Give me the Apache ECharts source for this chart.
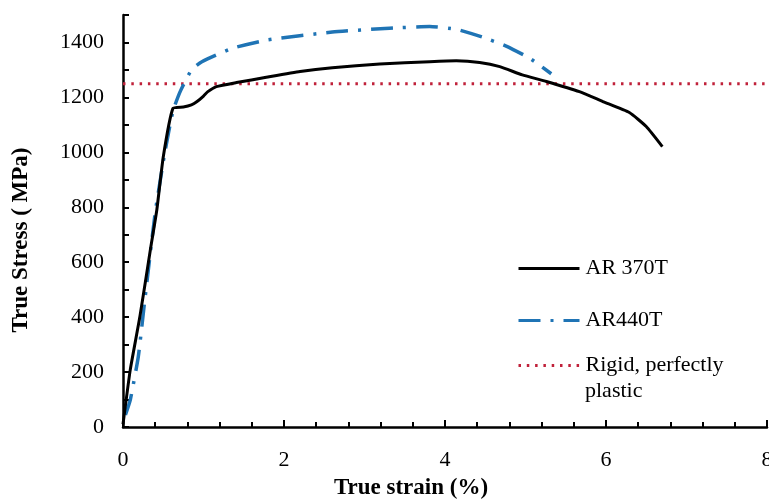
<!DOCTYPE html>
<html>
<head>
<meta charset="utf-8">
<script src="https://cdn.jsdelivr.net/npm/echarts@6/dist/echarts.min.js"></script>
<style>
  html, body { margin: 0; padding: 0; background: #fff; }
  #chart { width: 769px; height: 501px; }
</style>
</head>
<body>
<div id="chart"></div>
<script>
// True stress–strain curves of the two armour steels (strain in %, stress in MPa)
const ar370Strain = [0, 0.09, 0.21, 0.34, 0.42, 0.50, 0.62, 0.75, 0.85, 0.92, 1.0, 1.05, 1.16, 1.41, 1.78, 2.2, 2.6, 3.19, 3.81, 4.14, 4.43, 4.68, 4.96, 5.26, 5.67, 5.96, 6.29, 6.5, 6.7];
const ar370Stress = [10, 208, 402, 645, 790, 983, 1160, 1165, 1173, 1185, 1205, 1220, 1239, 1254, 1273, 1294, 1308, 1322, 1330, 1333, 1327, 1312, 1282, 1258, 1221, 1185, 1145, 1094, 1021];

const ar440Strain = [0.03, 0.09, 0.19, 0.27, 0.40, 0.52, 0.62, 0.71, 0.85, 0.98, 1.36, 1.79, 2.6, 3.31, 3.81, 4.14, 4.47, 4.76, 5.05, 5.32];
const ar440Stress = [44, 98, 256, 460, 780, 1000, 1150, 1221, 1300, 1330, 1379, 1409, 1438, 1452, 1458, 1448, 1419, 1387, 1343, 1286];

// Rigid, perfectly plastic reference level
const rigidStrain = [0, 8];
const rigidStress = [1250, 1250];

const seriesNames = ['AR 370T', 'AR440T', 'Rigid, perfectly plastic'];

const pairs = (xs, ys) => xs.map((x, i) => [x, ys[i]]);

const FONT = "'Liberation Serif', 'Times New Roman', serif";

const legendText = { fontFamily: FONT, fontSize: 22, color: '#000', lineHeight: 27, padding: [0, 0, 0, 1] };
// the marker dot of line-series legend icons is hidden; only the stroked line remains
const legendItemStyle = { opacity: 0 };
const legendLineStyle = { width: 3 };

const chart = echarts.init(document.getElementById('chart'), null, { renderer: 'canvas' });

chart.setOption({
  animation: false,
  backgroundColor: '#ffffff',
  textStyle: { fontFamily: FONT, color: '#000' },
  grid: { left: 123, right: 2, top: 15, bottom: 74, containLabel: false, outerBoundsMode: 'none' },
  legend: [
    {
      data: [seriesNames[0], seriesNames[1]],
      orient: 'vertical',
      left: 517,
      top: 255,
      padding: 0,
      itemWidth: 61,
      itemHeight: 14,
      itemGap: 25,
      itemStyle: legendItemStyle,
      lineStyle: legendLineStyle,
      textStyle: legendText
    },
    {
      data: [seriesNames[2]],
      orient: 'vertical',
      left: 517,
      top: 352,
      padding: 0,
      itemWidth: 61,
      itemHeight: 14,
      itemStyle: legendItemStyle,
      lineStyle: legendLineStyle,
      formatter: () => 'Rigid, perfectly',
      textStyle: legendText
    }
  ],
  graphic: [
    {
      type: 'text',
      left: 585,
      top: 380,
      style: { text: 'plastic', fontFamily: FONT, fontSize: 22, fill: '#000' }
    }
  ],
  xAxis: {
    type: 'value',
    min: 0,
    max: 8,
    interval: 2,
    name: 'True strain (%)',
    nameLocation: 'middle',
    nameGap: 50,
    nameTextStyle: { fontFamily: FONT, fontSize: 23, fontWeight: 'bold', color: '#000', padding: [0, 68, 0, 0] },
    axisLine: { show: true, onZero: false, lineStyle: { color: '#000', width: 2.5 } },
    axisTick: { show: true, inside: true, length: 7, lineStyle: { color: '#000', width: 2 } },
    minorTick: { show: true, splitNumber: 5, length: 5, lineStyle: { color: '#000', width: 2 } },
    axisLabel: { fontFamily: FONT, fontSize: 22, color: '#000', margin: 22, hideOverlap: false },
    splitLine: { show: false },
    minorSplitLine: { show: false }
  },
  yAxis: {
    type: 'value',
    min: 0,
    max: 1500,
    interval: 100,
    name: 'True Stress ( MPa)',
    nameLocation: 'middle',
    nameGap: 90,
    nameRotate: 90,
    nameTextStyle: { fontFamily: FONT, fontSize: 23, fontWeight: 'bold', color: '#000', padding: [0, 38, 0, 0] },
    axisLine: { show: true, onZero: false, lineStyle: { color: '#000', width: 2.5 } },
    axisTick: { show: true, inside: true, length: 6, lineStyle: { color: '#000', width: 2 } },
    axisLabel: {
      fontFamily: FONT, fontSize: 22, color: '#000', margin: 19,
      formatter: v => (v % 200 === 0 ? String(v) : '')
    },
    splitLine: { show: false }
  },
  series: [
    {
      name: seriesNames[2],
      type: 'line',
      data: pairs(rigidStrain, rigidStress),
      symbol: 'none',
      color: '#c0213a',
      lineStyle: { color: '#c0213a', width: 3, type: [2.5, 5.8] },
      z: 1
    },
    {
      name: seriesNames[0],
      type: 'line',
      data: pairs(ar370Strain, ar370Stress),
      symbol: 'none',
      smooth: 0.15,
      color: '#000000',
      lineStyle: { color: '#000000', width: 3 },
      z: 3
    },
    {
      name: seriesNames[1],
      type: 'line',
      data: pairs(ar440Strain, ar440Stress),
      symbol: 'none',
      smooth: 0.15,
      color: '#1f74b5',
      lineStyle: { color: '#1f74b5', width: 3.5, type: [22, 10, 3, 10] },
      z: 2
    }
  ]
});
</script>
</body>
</html>
